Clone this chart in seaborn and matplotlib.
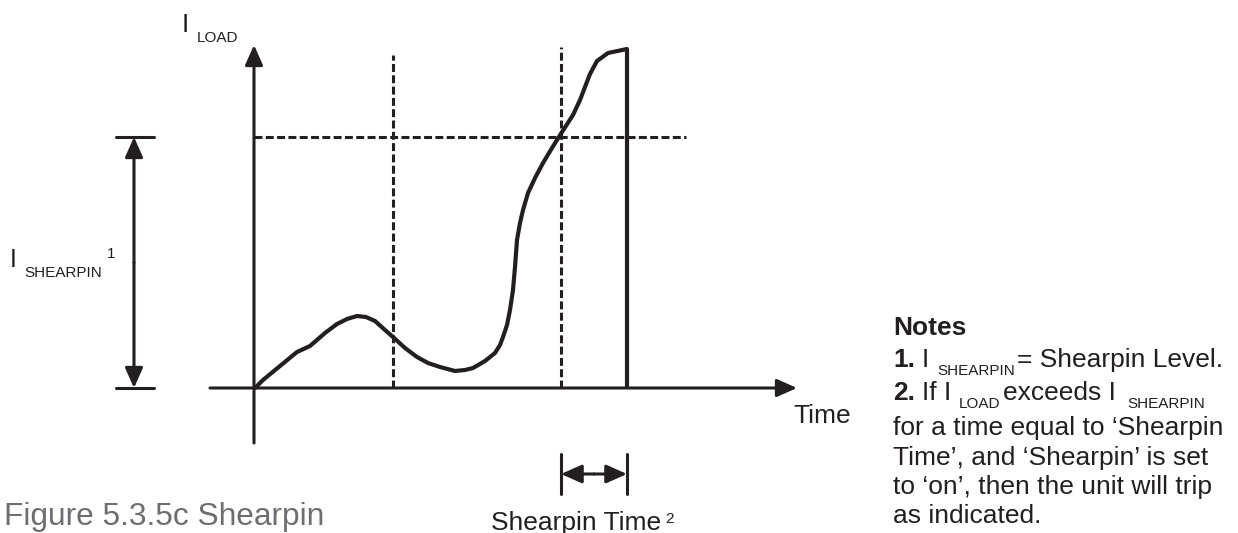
import matplotlib
matplotlib.use("Agg")
import matplotlib.pyplot as plt
import seaborn as sns
import pandas as pd

sns.set_theme(style="white")
plt.rcParams['font.family'] = ['Liberation Sans', 'DejaVu Sans']

# ---- data (diagram units; origin at the axes crossing, y upward) ----
curve_t = [1, 9, 26, 43, 56, 71, 83, 93, 103, 112, 121, 131, 139, 151, 163, 174, 186,
           201, 211, 219, 231, 241, 246, 249, 253, 256, 259, 261, 263, 266, 269, 274,
           281, 289, 298, 308, 319, 326, 331, 336, 343, 354, 373]
curve_i = [0, 8, 22, 36, 42, 55, 64, 69, 72, 71, 67, 58, 51, 40, 31, 25, 21,
           17, 18, 20, 27, 35, 43, 51, 63, 78, 98, 121, 148, 165, 178, 195,
           210, 225, 240, 256, 273, 288, 301, 314, 327, 335, 339]
shearpin_level = 251
t_marker1 = 139
t_marker2 = 307
t_trip = 373
trip_top = 339

INK = '#231f20'
GREY = '#6d6e71'

fig = plt.figure(figsize=(12.38, 5.33), dpi=100)
ax = fig.add_axes([0, 0, 1, 1])
ax.set_xlim(-254, 1238 - 254)
ax.set_ylim(388 - 533, 388)
ax.axis('off')


def px(x, y):
    return (x - 254, 388 - y)


df = pd.DataFrame({'t': curve_t, 'i': curve_i})
sns.lineplot(data=df, x='t', y='i', sort=False, ax=ax, color=INK, lw=3.0,
             solid_joinstyle='round', solid_capstyle='round')

# trip line
ax.plot([t_trip, t_trip], [0, trip_top], color=INK, lw=3.0, solid_capstyle='butt')

# dashed guides
dash = (0, (2.6, 1.1))
ax.plot([0, 432], [shearpin_level, shearpin_level], color=INK, lw=2.2, ls=dash)
ax.plot([t_marker1, t_marker1], [0, 333], color=INK, lw=2.2, ls=dash)
ax.plot([t_marker2, t_marker2], [0, 341], color=INK, lw=2.2, ls=dash)

arrow = dict(arrowstyle='-|>,head_length=0.45,head_width=0.2', color=INK, lw=2.2,
             mutation_scale=27, shrinkA=0, shrinkB=0)
# axes
ax.annotate('', xy=(0, 343), xytext=(0, -55), arrowprops=arrow)
ax.annotate('', xy=(543, 0), xytext=(-44, 0), arrowprops=arrow)

# I shearpin dimension
ax.annotate('', xy=(-120, shearpin_level), xytext=(-120, shearpin_level / 2), arrowprops=arrow)
ax.annotate('', xy=(-120, 0), xytext=(-120, shearpin_level / 2), arrowprops=arrow)
ax.plot([-138, -100], [shearpin_level, shearpin_level], color=INK, lw=2.2)
ax.plot([-138, -100], [0, 0], color=INK, lw=2.2)

# shearpin time dimension
arrow2 = dict(arrow, mutation_scale=28)
ax.annotate('', xy=(t_marker2, -86), xytext=((t_marker2 + t_trip) / 2, -86), arrowprops=arrow2)
ax.annotate('', xy=(t_trip, -86), xytext=((t_marker2 + t_trip) / 2, -86), arrowprops=arrow2)
ax.plot([t_marker2, t_marker2], [-66, -106], color=INK, lw=2.2)
ax.plot([t_trip, t_trip], [-66, -106], color=INK, lw=2.2)


def txt(x, y, s, size, weight='normal', color=INK):
    ax.text(*px(x, y), s, fontsize=size, fontweight=weight, color=color,
            ha='left', va='baseline')


BIG = 19
SUB = 11
txt(182, 32, 'I', 19)
txt(197, 42, 'LOAD', SUB)
txt(10, 267, 'I', 18)
txt(24, 277, 'SHEARPIN', SUB)
txt(107, 258, '1', SUB)
txt(793, 423, 'Time', BIG)
txt(491, 530, 'Shearpin Time', BIG)
txt(665, 523, '2', 11)
txt(4, 525, 'Figure 5.3.5c Shearpin', 22.8, color=GREY)

txt(893, 335, 'Notes', BIG, 'bold')
txt(893, 367, '1.', BIG, 'bold')
txt(922, 367, 'I', BIG)
txt(937, 375, 'SHEARPIN', SUB)
txt(1017, 367, '= Shearpin Level.', BIG)
txt(893, 400, '2.', BIG, 'bold')
txt(922, 400, 'If I', BIG)
txt(959, 408, 'LOAD', SUB)
txt(1003, 400, 'exceeds I', BIG)
txt(1127, 408, 'SHEARPIN', SUB)
txt(893, 435, 'for a time equal to \u2018Shearpin', BIG)
txt(893, 465, 'Time\u2019, and \u2018Shearpin\u2019 is set', BIG)
txt(893, 494, 'to \u2018on\u2019, then the unit will trip', BIG)
txt(893, 523, 'as indicated.', BIG)

fig.savefig('out.png', dpi=100)
